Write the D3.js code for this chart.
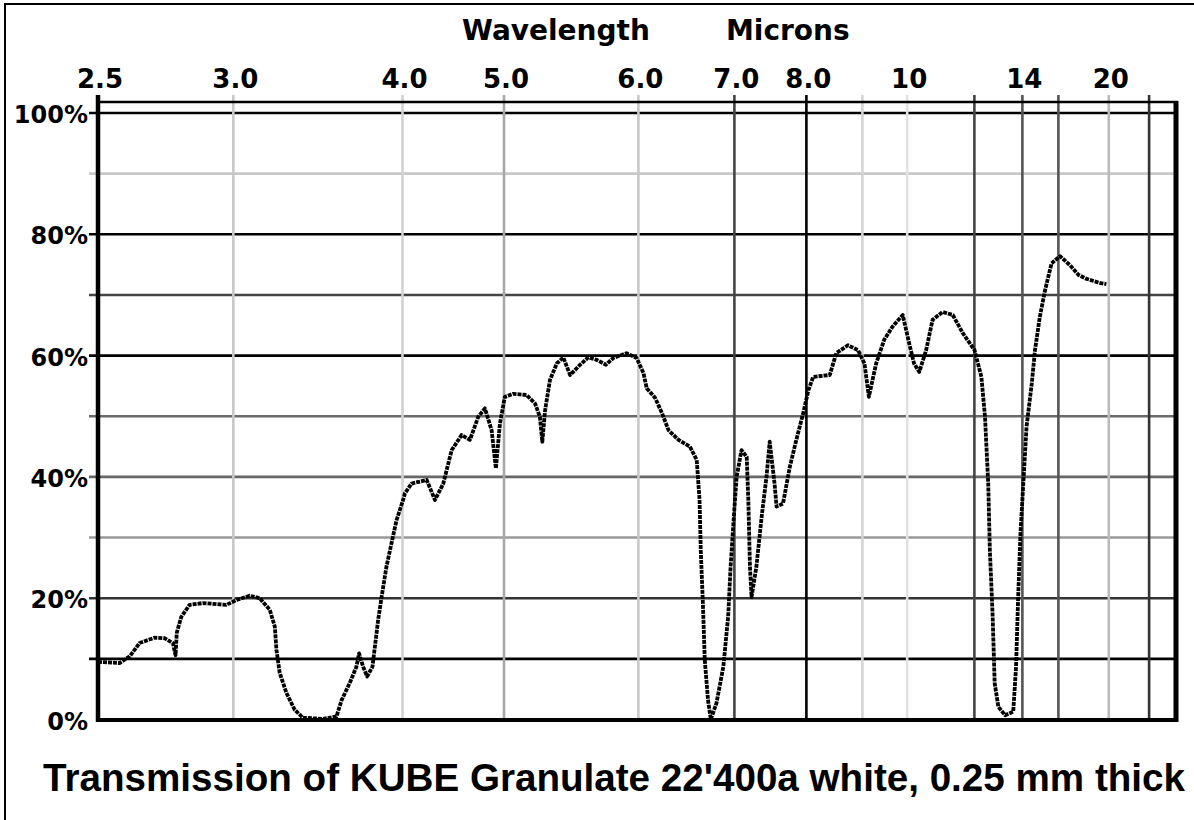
<!DOCTYPE html>
<html>
<head>
<meta charset="utf-8">
<script src="https://cdn.jsdelivr.net/npm/d3@7"></script>
<style>
  html, body { margin: 0; padding: 0; background: #fff; }
  svg { display: block; }
</style>
</head>
<body>
<div id="chart"></div>
<script>
// 스펙트럼 데이터: 파수(cm-1)와 투과율(%)
const wavenumbers = [
  4000, 3894, 3844, 3795, 3721, 3672, 3631, 3618, 3612, 3590, 3549, 3483, 3368, 3318, 3253, 3204,
  3154, 3129, 3121, 3105, 3072, 3031, 2991, 2891, 2825, 2800, 2760, 2727, 2714, 2694, 2674, 2648,
  2636, 2620, 2603, 2579, 2554, 2529, 2497, 2488, 2455, 2381, 2340, 2299, 2258, 2209, 2168, 2127,
  2094, 2061, 2040, 2020, 1998, 1977, 1944, 1923, 1911, 1905, 1898, 1886, 1869, 1853, 1836, 1811,
  1791, 1770, 1747, 1729, 1696, 1671, 1654, 1646, 1625, 1608, 1592, 1567, 1539, 1522, 1515, 1512,
  1507, 1502, 1494, 1487, 1473, 1456, 1444, 1438, 1430, 1423, 1411, 1398, 1394, 1390, 1386, 1374,
  1361, 1349, 1341, 1329, 1324, 1308, 1291, 1275, 1258, 1245, 1233, 1192, 1176, 1147, 1122, 1106,
  1095, 1077, 1057, 1036, 1011, 995, 983, 970, 953, 937, 912, 887, 862, 833, 816, 807,
  799, 795, 788, 783, 774, 757, 737, 730, 725, 719, 712, 704, 691, 683, 671, 658,
  642, 621, 596, 575, 557, 523, 506
];
const transmission = [
  9.5, 9.3, 10.4, 12.6, 13.5, 13.4, 12.6, 10.6, 14.3, 16.9, 18.9, 19.2, 18.9, 19.7, 20.4, 20.0,
  18.1, 15.3, 11.5, 7.7, 4.4, 1.6, 0.3, 0.1, 0.5, 3.2, 6.0, 8.7, 10.9, 8.7, 7.1, 8.7,
  12.0, 16.4, 20.2, 25.2, 29.1, 32.9, 36.2, 37.3, 38.9, 39.5, 36.2, 38.9, 44.4, 46.9, 46.1, 49.9,
  51.3, 47.7, 41.4, 48.8, 53.2, 53.7, 53.5, 52.1, 49.9, 45.8, 51.0, 56.0, 58.7, 59.7, 56.8, 58.5,
  59.7, 59.3, 58.5, 59.6, 60.4, 59.6, 57.1, 54.6, 53.0, 50.5, 47.7, 46.1, 45.0, 42.8, 36.2, 27.9,
  19.7, 9.8, 3.2, 0.0, 2.7, 8.7, 17.0, 25.2, 33.4, 40.0, 44.4, 43.3, 36.2, 25.2, 20.2, 25.2,
  33.4, 40.0, 45.8, 38.9, 35.1, 35.6, 41.7, 46.1, 50.5, 54.3, 56.5, 56.8, 60.4, 61.7, 60.9, 58.7,
  53.2, 58.7, 62.6, 64.8, 66.7, 62.0, 58.7, 57.3, 60.9, 65.9, 67.2, 66.7, 63.7, 60.9, 56.5, 49.9,
  38.9, 27.9, 17.0, 6.0, 2.1, 0.7, 1.3, 8.7, 19.7, 30.7, 38.9, 48.3, 55.4, 60.9, 66.4, 70.8,
  75.2, 76.4, 74.9, 73.3, 72.7, 72.0, 71.8
];

// 격자선 파장(µm)과 눈금 라벨
const gridMicrons = [3, 4, 5, 6, 7, 8, 9, 10, 12, 14, 16, 20, 25];
const tickMicrons = [2.5, 3, 4, 5, 6, 7, 8, 10, 14, 20];
const tickLabels = ["2.5", "3.0", "4.0", "5.0", "6.0", "7.0", "8.0", "10", "14", "20"];
const percentGrid = [10, 20, 30, 40, 50, 60, 70, 80, 90, 100];
const percentLabels = [0, 20, 40, 60, 80, 100];

// 격자선 색 (스캔 원본의 회색 톤)
const vColor = {3: "#c8c8c8", 4: "#d2d2d2", 5: "#a8a8a8", 6: "#c8c8c8", 7: "#444", 8: "#000",
  9: "#d4d4d4", 10: "#e2e2e2", 12: "#444", 14: "#555", 16: "#555", 20: "#bbb", 25: "#333"};
const hColor = {10: "#000", 20: "#333", 30: "#999", 40: "#666", 50: "#6a6a6a", 60: "#000",
  70: "#444", 80: "#000", 90: "#c8c8c8", 100: "#000"};

const width = 1194, height = 820;
const svg = d3.select("#chart").append("svg")
  .attr("width", width)
  .attr("height", height);

// 파수 축: 2000 cm-1 아래는 2배 확대
const x = d3.scaleLinear().domain([4000, 2000, 333.3]).range([98, 504, 1176]);
const y = d3.scaleLinear().domain([0, 100]).range([719.5, 113]);
const xMic = m => x(1e4 / m);

// 바깥 테두리
svg.append("path").attr("d", "M5,820V4H1194")
  .attr("fill", "none").attr("stroke", "#000").attr("stroke-width", 2);

// 가로 격자선
svg.append("g").selectAll("line").data(percentGrid).join("line")
  .attr("x1", 89).attr("x2", 1176)
  .attr("y1", d => y(d)).attr("y2", d => y(d))
  .attr("stroke", d => hColor[d]).attr("stroke-width", 2.6);

// 세로 격자선
svg.append("g").selectAll("line").data(gridMicrons).join("line")
  .attr("x1", d => xMic(d)).attr("x2", d => xMic(d))
  .attr("y1", 95).attr("y2", 720)
  .attr("stroke", d => vColor[d]).attr("stroke-width", 2.6);

// 윗선, 축, 오른쪽 테두리
svg.append("line").attr("x1", 98).attr("x2", 1178).attr("y1", 102).attr("y2", 102)
  .attr("stroke", "#000").attr("stroke-width", 2.6);
svg.append("line").attr("x1", 96).attr("x2", 1178).attr("y1", 720).attr("y2", 720)
  .attr("stroke", "#000").attr("stroke-width", 4);
svg.append("line").attr("x1", x(4000)).attr("x2", x(4000)).attr("y1", 95).attr("y2", 722)
  .attr("stroke", "#000").attr("stroke-width", 4.5);
svg.append("line").attr("x1", 1176).attr("x2", 1176).attr("y1", 101).attr("y2", 722)
  .attr("stroke", "#000").attr("stroke-width", 5);

// 제목
svg.append("text").attr("x", 462).attr("y", 40).text("Wavelength")
  .attr("font-family", "DejaVu Sans").attr("font-weight", "bold").attr("font-size", 28);
svg.append("text").attr("x", 726).attr("y", 40).text("Microns")
  .attr("font-family", "DejaVu Sans").attr("font-weight", "bold").attr("font-size", 28);

// x 눈금 라벨
svg.append("g").selectAll("text").data(tickMicrons).join("text")
  .attr("x", d => xMic(d) + 2).attr("y", 88)
  .attr("text-anchor", "middle")
  .attr("font-family", "DejaVu Sans").attr("font-weight", "bold").attr("font-size", 26)
  .text((d, i) => tickLabels[i]);

// y 눈금 라벨
svg.append("g").selectAll("text").data(percentLabels).join("text")
  .attr("x", 88).attr("y", d => y(d) + 2)
  .attr("text-anchor", "end").attr("dominant-baseline", "central")
  .attr("font-family", "DejaVu Sans").attr("font-weight", "bold").attr("font-size", 24)
  .text(d => d + "%");

// 스펙트럼 곡선
const points = wavenumbers.map((w, i) => ({w, t: transmission[i]}));
const line = d3.line().x(d => x(d.w)).y(d => y(d.t));
svg.append("path").datum(points)
  .attr("d", line)
  .attr("fill", "none").attr("stroke", "#000").attr("stroke-width", 3.8)
  .attr("stroke-dasharray", "4 1").attr("stroke-linejoin", "round");

// 설명 문구
svg.append("text").attr("x", 43).attr("y", 791)
  .attr("font-family", "Liberation Sans, Arial, sans-serif").attr("font-weight", "bold")
  .attr("font-size", 38.5).attr("textLength", 1142).attr("lengthAdjust", "spacingAndGlyphs")
  .text("Transmission of KUBE Granulate 22'400a white, 0.25 mm thick");
</script>
</body>
</html>
